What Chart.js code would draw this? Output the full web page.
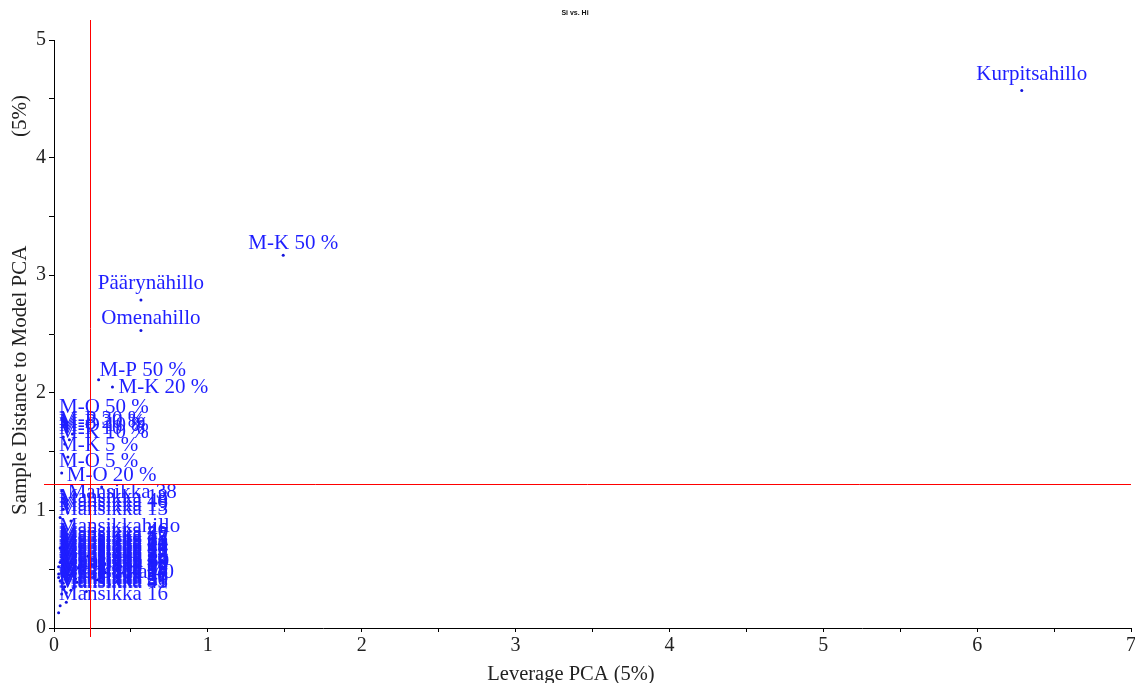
<!DOCTYPE html>
<html><head><meta charset="utf-8">
<script src="https://cdn.jsdelivr.net/npm/chart.js@4/dist/chart.umd.min.js"></script>
<style>html,body{margin:0;padding:0;background:#fff;}</style>
</head><body>
<canvas id="c" width="1135" height="683"></canvas>
<script>
// ---- data ----
const sampleNames = [
  'Kurpitsahillo','M-K 50 %','Päärynähillo','Omenahillo','M-P 50 %','M-K 20 %',
  'M-O 50 %','M-P 30 %','M-P 20 %','M-O 10 %','M-P 10 %','M-K 10 %','M-K 5 %','M-O 5 %','M-O 20 %',
  'Mansikka 38','Mansikka 18','Mansikka 48','Mansikka 19','Mansikka 13','Mansikkahillo',
  'Mansikka 1','Mansikka 2','Mansikka 3','Mansikka 4','Mansikka 5','Mansikka 6','Mansikka 7','Mansikka 8',
  'Mansikka 9','Mansikka 10','Mansikka 11','Mansikka 12','Mansikka 14','Mansikka 15','Mansikka 17',
  'Mansikka 20','Mansikka 21','Mansikka 22','Mansikka 23','Mansikka 24','Mansikka 25','Mansikka 26',
  'Mansikka 27','Mansikka 28','Mansikka 29','Mansikka 30','Mansikka 31','Mansikka 32','Mansikka 33',
  'Mansikka 34','Mansikka 35','Mansikka 36','Mansikka 37','Mansikka 39','Mansikka 40','Mansikka 41',
  'Mansikka 42','Mansikka 43','Mansikka 44','Mansikka 45','Mansikka 46','Mansikka 47','Mansikka 49',
  'Mansikka 50','Mansikka 16','',''
];
const leverage = [
  6.29, 1.49, 0.565, 0.565, 0.29, 0.38,
  0.05, 0.08, 0.12, 0.06, 0.10, 0.07, 0.09, 0.05, 0.31,
  0.05, 0.06, 0.09, 0.04, 0.11, 0.06,
  0.05, 0.08, 0.12, 0.04, 0.15, 0.06, 0.10, 0.03,
  0.18, 0.07, 0.22, 0.09, 0.05, 0.13, 0.26,
  0.04, 0.11, 0.07, 0.16, 0.30, 0.06, 0.09,
  0.20, 0.03, 0.12, 0.33, 0.08, 0.14, 0.05,
  0.24, 0.10, 0.06, 0.17, 0.04, 0.36, 0.08,
  0.19, 0.05, 0.11, 0.28, 0.07, 0.13, 0.03,
  0.21, 0.04, 0.08, 0.03
];
const distance = [
  4.57, 3.17, 2.79, 2.53, 2.11, 2.05,
  1.78, 1.675, 1.65, 1.624, 1.60, 1.565, 1.454, 1.318, 1.20,
  1.165, 1.01, 0.98, 0.94, 0.91, 0.765,
  0.60, 0.53, 0.46, 0.68, 0.39, 0.64, 0.50, 0.43,
  0.57, 0.35, 0.61, 0.41, 0.48, 0.66, 0.44,
  0.56, 0.32, 0.70, 0.51, 0.59, 0.38, 0.62,
  0.36, 0.52, 0.55, 0.47, 0.30, 0.42, 0.65,
  0.54, 0.45, 0.33, 0.69, 0.40, 0.37, 0.58,
  0.49, 0.29, 0.63, 0.41, 0.72, 0.34, 0.46,
  0.31, 0.19, 0.22, 0.13
];
const leverageLimit = 0.234;
const distanceLimit = 1.224;
const xRange = [0, 7];
const yRange = [0, 5];
const chartTitle = 'Si vs. Hi';
const xTitle = 'Leverage PCA (5%)';
const yTitleMain = 'Sample Distance to Model PCA';
const yTitleUnit = '(5%)';
// label placement style (not data)
const labelSide = {'M-K 20 %':'right','Mansikka 38':'right','M-P 50 %':'aboveRight','Kurpitsahillo':'high','Päärynähillo':'high'};

const points = leverage.map((v, i) => ({x: v, y: distance[i]}));
const SERIF = '"Liberation Serif", "Times New Roman", serif';
const BLUE = 'rgb(30,30,255)';

const overlay = {
  id: 'overlay',
  afterDatasetsDraw(chart) {
    const {ctx, chartArea, scales} = chart;
    const xs = scales.x, ys = scales.y;
    ctx.save();
    // point labels
    ctx.font = '21px ' + SERIF;
    ctx.fillStyle = BLUE;
    sampleNames.forEach((name, i) => {
      if (!name) return;
      const px = xs.getPixelForValue(leverage[i]);
      const py = ys.getPixelForValue(distance[i]);
      const w = ctx.measureText(name).width;
      const side = labelSide[name] || 'above';
      ctx.textAlign = 'left';
      if (side === 'right') {
        ctx.textBaseline = 'middle';
        ctx.fillText(name, px + 6, py + 1);
      } else if (side === 'aboveRight') {
        ctx.textBaseline = 'alphabetic';
        ctx.fillText(name, px + 1, py - 4);
      } else {
        ctx.textBaseline = 'alphabetic';
        let left = px + 10 - w / 2;
        if (left < chartArea.left + 5) left = chartArea.left + 5;
        ctx.fillText(name, left, py - (side === 'high' ? 11 : 6));
      }
    });
    // limit lines
    ctx.strokeStyle = '#ff0000';
    ctx.lineWidth = 1;
    const lx = Math.round(xs.getPixelForValue(leverageLimit)) + 0.5;
    const ly = Math.round(ys.getPixelForValue(distanceLimit)) + 0.5;
    ctx.beginPath();
    ctx.moveTo(lx, 20); ctx.lineTo(lx, 637);
    ctx.moveTo(chartArea.left - 10, ly); ctx.lineTo(chartArea.right, ly);
    ctx.stroke();
    // titles
    ctx.fillStyle = '#111';
    ctx.font = 'bold 7px "Liberation Sans", Arial, sans-serif';
    ctx.textAlign = 'center';
    ctx.textBaseline = 'middle';
    ctx.fillText(chartTitle, 575, 13);
    ctx.fillStyle = '#222';
    ctx.font = '20.5px ' + SERIF;
    ctx.textBaseline = 'alphabetic';
    ctx.fillText(xTitle, 571, 680);
    ctx.translate(20, 0);
    ctx.rotate(-Math.PI / 2);
    ctx.font = '21px ' + SERIF;
    ctx.textBaseline = 'middle';
    ctx.textAlign = 'left';
    ctx.fillText(yTitleMain, -515, 0);
    ctx.textAlign = 'right';
    ctx.fillText(yTitleUnit, -95, 0);
    ctx.restore();
  }
};

new Chart(document.getElementById('c'), {
  type: 'scatter',
  data: {datasets: [{
    data: points,
    pointRadius: 1.5,
    pointHoverRadius: 1.5,
    pointBackgroundColor: 'rgb(20,20,220)',
    pointBorderWidth: 0,
    showLine: false
  }]},
  options: {
    responsive: false,
    animation: false,
    devicePixelRatio: 1,
    layout: {padding: {top: 40, right: 4, left: 0, bottom: 0}},
    plugins: {legend: {display: false}, tooltip: {enabled: false}, title: {display: false}},
    scales: {
      x: {
        type: 'linear',
        min: xRange[0], max: xRange[1],
        grid: {drawOnChartArea: false, tickLength: 4, color: '#000', lineWidth: 1},
        border: {display: true, color: '#000', width: 1},
        ticks: {stepSize: 0.5, autoSkip: false, maxRotation: 0, padding: 2, color: '#222',
          font: {family: SERIF, size: 20},
          callback: v => Number.isInteger(v) ? String(v) : ''},
        afterFit: s => { s.height = 55; s.paddingLeft = 0; s.paddingRight = 0; }
      },
      y: {
        type: 'linear',
        min: yRange[0], max: yRange[1],
        grid: {drawOnChartArea: false, tickLength: 5, color: '#000', lineWidth: 1},
        border: {display: true, color: '#000', width: 1},
        ticks: {stepSize: 0.5, autoSkip: false, padding: 3, color: '#222',
          font: {family: SERIF, size: 20},
          callback: v => Number.isInteger(v) ? String(v) : ''},
        afterFit: s => { s.width = 54; s.paddingTop = 0; s.paddingBottom = 0; }
      }
    }
  },
  plugins: [overlay]
});
</script>
</body></html>
